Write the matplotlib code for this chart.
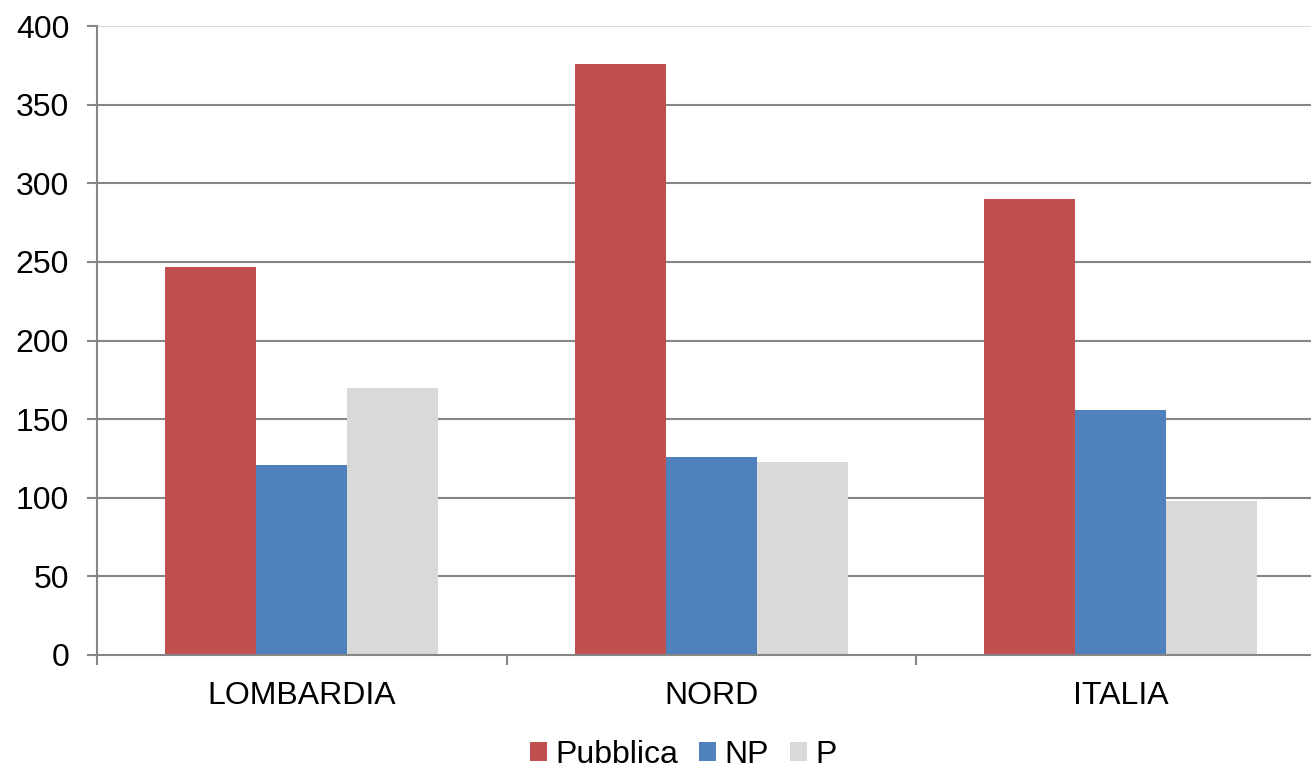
import matplotlib.pyplot as plt
import numpy as np

plt.rcParams["font.family"] = ["Liberation Sans", "DejaVu Sans"]

categories = ["LOMBARDIA", "NORD", "ITALIA"]
series_names = ["Pubblica", "NP", "P"]
pubblica = [247, 376, 290]
np_values = [121, 126, 156]
p_values = [170, 123, 98]
y_ticks = [0, 50, 100, 150, 200, 250, 300, 350, 400]

colors = ["#C0504D", "#4F81BD", "#D9D9D9"]
grid_color = "#868686"
FONT_SIZE = 23


def main() -> None:
    fig = plt.figure(figsize=(13.11, 7.69), dpi=100)
    ax = fig.add_axes([97 / 1311, 1 - 655 / 769, 1 - 97 / 1311, (655 - 26) / 769])

    x = np.arange(len(categories))
    width = 0.222
    for i, (name, values) in enumerate(zip(series_names, [pubblica, np_values, p_values])):
        ax.bar(x + (i - 1) * width, values, width=width, color=colors[i],
               label=name, zorder=3, linewidth=0)

    ax.set_ylim(0, 400)
    ax.set_xlim(-0.5, (1311 - 97) / 409.5 - 0.5)
    ax.set_yticks(y_ticks)
    ax.set_yticklabels([str(v) for v in y_ticks], fontsize=FONT_SIZE)

    # horizontal grid, top line lighter like the plot border
    for v in y_ticks[1:]:
        c = "#D9D9D9" if v == 400 else grid_color
        ax.axhline(v, color=c, linewidth=1.5, zorder=1)

    ax.set_xticks(x)
    ax.set_xticklabels(categories, fontsize=FONT_SIZE)
    ax.tick_params(axis="x", length=0, pad=19)
    ax.set_xticks([-0.5, 0.5, 1.5], minor=True)
    ax.tick_params(axis="x", which="minor", length=7, width=1.5, color=grid_color)
    ax.tick_params(axis="y", length=7, width=1.5, color=grid_color, pad=13)

    for side in ["top", "right"]:
        ax.spines[side].set_visible(False)
    ax.spines["left"].set_color(grid_color)
    ax.spines["left"].set_linewidth(1.5)
    ax.spines["bottom"].set_color(grid_color)
    ax.spines["bottom"].set_linewidth(1.5)
    ax.spines["bottom"].set_zorder(4)

    fig.legend(loc="center", bbox_to_anchor=(0.521, 1 - 755 / 769), ncol=3,
               frameon=False, fontsize=FONT_SIZE, handlelength=0.55, handleheight=0.55,
               handletextpad=0.25, columnspacing=0.65, borderaxespad=0)

    fig.savefig("out.png", dpi=100)
    plt.close(fig)


if __name__ == "__main__":
    main()
